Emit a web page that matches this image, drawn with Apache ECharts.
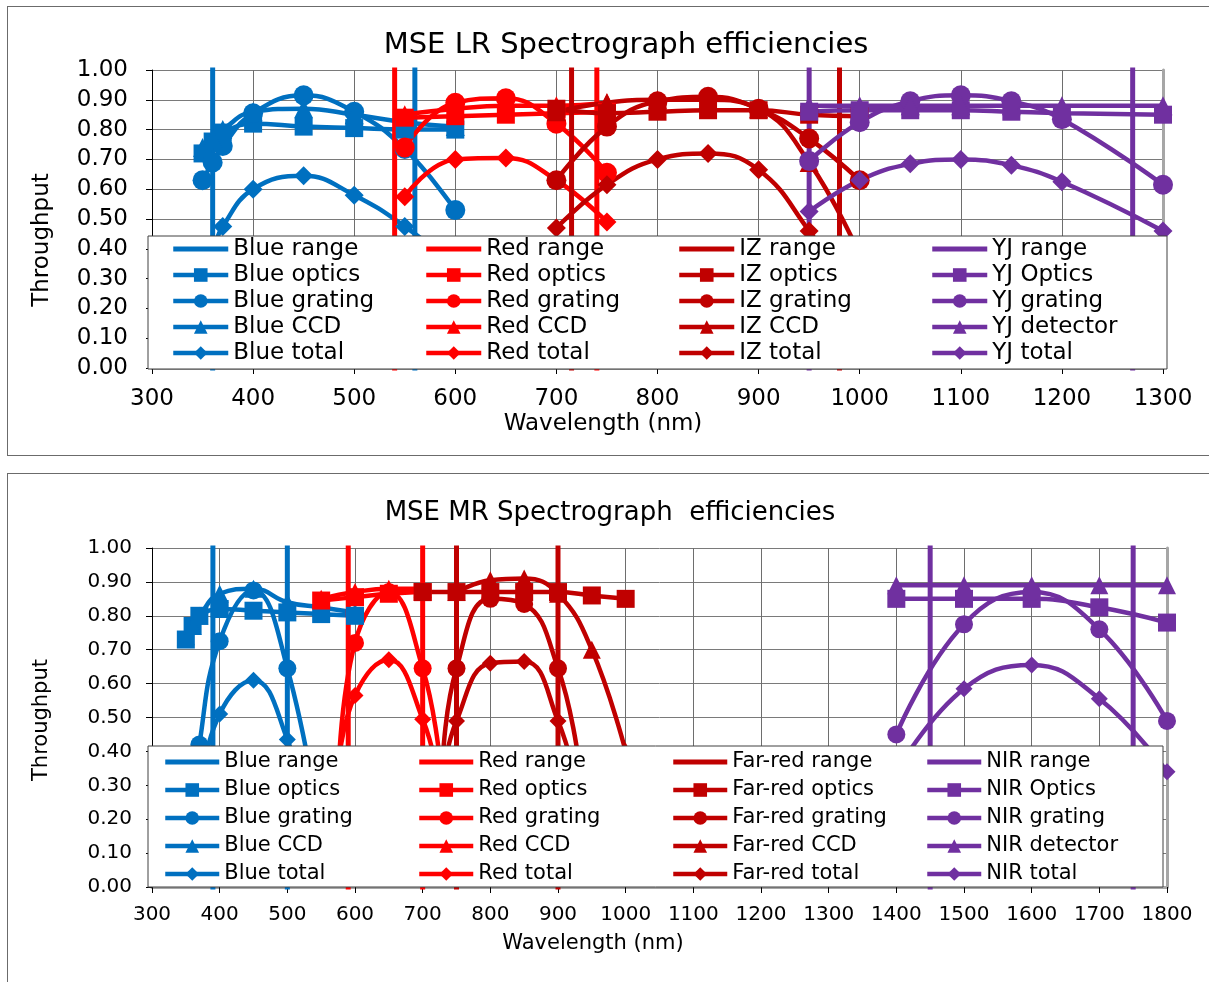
<!DOCTYPE html>
<html>
<head>
<meta charset="utf-8">
<script src="https://cdn.jsdelivr.net/npm/echarts@6/dist/echarts.min.js"></script>
<style>
  html, body { margin: 0; padding: 0; background: #fff; width: 1209px; height: 982px; overflow: hidden; position: relative; }
  .frame { position: absolute; border: 1px solid #6b6b6b; box-sizing: border-box; }
  #lr { position: absolute; left: 0; top: 0; width: 1209px; height: 466px; }
  #mr { position: absolute; left: 0; top: 466px; width: 1209px; height: 516px; }
</style>
</head>
<body>
<div class="frame" style="left:7px;top:6px;width:1215px;height:450px"></div>
<div class="frame" style="left:7px;top:473px;width:1215px;height:520px"></div>
<div id="lr"></div>
<div id="mr"></div>
<script>
// ---------- Low-resolution (LR) spectrograph ----------
const lrRangeBlue = [360, 560];
const lrRangeRed = [540, 740];
const lrRangeIZ = [715, 980];
const lrRangeYJ = [950, 1270];

const lrBlueWl = [350, 360, 370, 400, 450, 500, 550, 600];
const lrBlueOptics = [0.72, 0.76, 0.79, 0.82, 0.81, 0.805, 0.80, 0.80];
const lrBlueGrating = [0.63, 0.69, 0.745, 0.855, 0.915, 0.86, 0.735, 0.53];
const lrBlueCCD = [0.74, 0.77, 0.80, 0.86, 0.87, 0.85, 0.825, 0.81];
const lrBlueTotal = [0.34, 0.40, 0.475, 0.60, 0.645, 0.58, 0.475, 0.34];

const lrRedWl = [550, 600, 650, 700, 750];
const lrRedOptics = [0.84, 0.845, 0.85, 0.855, 0.86];
const lrRedGrating = [0.74, 0.89, 0.905, 0.82, 0.655];
const lrRedCCD = [0.85, 0.87, 0.88, 0.88, 0.89];
const lrRedTotal = [0.575, 0.70, 0.705, 0.63, 0.49];

const lrIzWl = [700, 750, 800, 850, 900, 950, 1000];
const lrIzOptics = [0.87, 0.855, 0.86, 0.865, 0.865, 0.85, 0.845];
const lrIzGrating = [0.63, 0.81, 0.895, 0.91, 0.87, 0.77, 0.63];
const lrIzCCD = [0.86, 0.89, 0.90, 0.90, 0.87, 0.69, 0.38];
const lrIzTotal = [0.47, 0.615, 0.70, 0.72, 0.665, 0.46, 0.21];

const lrYjWl = [950, 1000, 1050, 1100, 1150, 1200, 1300];
const lrYjOptics = [0.86, 0.865, 0.865, 0.865, 0.86, 0.855, 0.85];
const lrYjGrating = [0.695, 0.825, 0.895, 0.915, 0.895, 0.835, 0.615];
const lrYjDetector = [0.88, 0.88, 0.88, 0.88, 0.88, 0.88, 0.88];
const lrYjTotal = [0.525, 0.63, 0.685, 0.70, 0.68, 0.625, 0.46];

// ---------- Medium-resolution (MR) spectrograph ----------
const mrRangeBlue = [390, 500];
const mrRangeRed = [590, 700];
const mrRangeFar = [750, 900];
const mrRangeNIR = [1450, 1750];

const mrBlueWl = [350, 360, 370, 400, 450, 500, 550, 600];
const mrBlueOptics = [0.73, 0.77, 0.80, 0.82, 0.815, 0.81, 0.805, 0.80];
const mrBlueGrating = [null, 0.22, 0.42, 0.725, 0.875, 0.645, 0.15, null];
const mrBlueCCD = [0.74, 0.77, 0.80, 0.865, 0.88, 0.84, 0.825, 0.81];
const mrBlueTotal = [null, 0.15, 0.27, 0.51, 0.61, 0.435, 0.10, null];

const mrRedWl = [550, 575, 600, 650, 700, 725];
const mrRedOptics = [0.845, null, 0.855, 0.865, 0.87, null];
const mrRedGrating = [null, 0.30, 0.72, 0.87, 0.645, 0.38];
const mrRedCCD = [0.85, null, 0.87, 0.88, 0.88, null];
const mrRedTotal = [null, 0.35, 0.565, 0.67, 0.495, 0.30];

const mrFarWl = [700, 730, 750, 800, 850, 900, 930, 950, 1000];
const mrFarOptics = [0.87, null, 0.87, 0.87, 0.87, 0.87, null, 0.86, 0.85];
const mrFarGrating = [null, 0.38, 0.645, 0.85, 0.835, 0.645, 0.38, null, null];
const mrFarCCD = [null, null, 0.87, 0.905, 0.91, 0.865, null, 0.70, 0.40];
const mrFarTotal = [null, 0.33, 0.49, 0.66, 0.665, 0.49, 0.28, null, null];

const mrNirWl = [1400, 1500, 1600, 1700, 1800];
const mrNirOptics = [0.85, 0.85, 0.85, 0.825, 0.78];
const mrNirGrating = [0.45, 0.775, 0.87, 0.76, 0.49];
const mrNirDetector = [0.89, 0.89, 0.89, 0.89, 0.89];
const mrNirTotal = [0.34, 0.585, 0.655, 0.555, 0.34];

// ---------- styling ----------
const BLUE = '#0070C0', RED = '#FF0000', DARK = '#C00000', PURPLE = '#7030A0';
const FONT = '"DejaVu Sans", sans-serif';
const Y_MIN = 0, Y_MAX = 1;
// plain bar used as the legend key of the range lines (no marker)
const RANGE_ICON = 'path://M0,0H55V5H0Z';

function pairs(xs, ys) {
  const out = [];
  xs.forEach((x, i) => { if (ys[i] != null) out.push([x, ys[i]]); });
  return out;
}

// A wavelength range is drawn as two vertical lines spanning the whole value axis;
// the joining segment runs above the plot and is clipped away.
function rangeSeries(name, color, xs) {
  const lo = Y_MIN - 0.05, hi = Y_MAX + 0.5;
  return {
    name, type: 'line', symbol: 'none', showSymbol: false, clip: true, smooth: false,
    data: [[xs[0], lo], [xs[0], hi], [xs[1], hi], [xs[1], lo]],
    lineStyle: { color, width: 5 }, itemStyle: { color },
    emphasis: { disabled: true }
  };
}

function curve(name, color, symbol, size, xs, ys) {
  return {
    name, type: 'line', data: pairs(xs, ys), symbol, symbolSize: size,
    showSymbol: true, smooth: 0.45, clip: true,
    lineStyle: { color, width: 4.5 }, itemStyle: { color, borderWidth: 0 },
    emphasis: { disabled: true }
  };
}

function band(prefix, color, sizes, range, wl, optics, grating, det, total, names) {
  return [
    rangeSeries(prefix + ' range', color, range),
    curve(prefix + names[0], color, 'rect', sizes[0], wl, optics),
    curve(prefix + ' grating', color, 'circle', sizes[1], wl, grating),
    curve(prefix + names[1], color, 'triangle', sizes[2], wl, det),
    curve(prefix + ' total', color, 'diamond', sizes[3], wl, total)
  ];
}

function legendCols(groups, lefts, top, cfg) {
  return groups.map((g, i) => ({
    orient: 'vertical', left: lefts[i], top, padding: 0, itemGap: 0,
    itemWidth: cfg.iw, itemHeight: 17, selectedMode: false, z: 60,
    lineStyle: { width: 'inherit' },
    data: g.map(name => / range$/.test(name) ? { name, icon: RANGE_ICON } : name),
    textStyle: { fontFamily: FONT, fontSize: cfg.fs, lineHeight: cfg.lh, color: '#000' }
  }));
}

function axes(cfg) {
  const lbl = { fontFamily: FONT, fontSize: cfg.fs, color: '#000' };
  return {
    xAxis: [{
      type: 'value', min: cfg.xmin, max: cfg.xmax, interval: 100,
      axisLine: { show: true, lineStyle: { color: '#000', width: 1 } },
      axisTick: { show: true, length: 6, lineStyle: { color: '#000' } },
      axisLabel: { ...lbl, margin: cfg.xm, formatter: v => String(v) },
      splitLine: { show: true, lineStyle: { color: '#6e6e6e', width: 1 } }
    }, {
      type: 'value', position: 'top', min: cfg.xmin, max: cfg.xmax,
      axisLine: { show: true, lineStyle: { color: '#a6a6a6', width: 3 } },
      axisTick: { show: false }, axisLabel: { show: false }, splitLine: { show: false }
    }],
    yAxis: [{
      type: 'value', min: Y_MIN, max: Y_MAX, interval: 0.1,
      axisLine: { show: true, lineStyle: { color: '#000', width: 1 } },
      axisTick: { show: true, length: 6, lineStyle: { color: '#000' } },
      axisLabel: { ...lbl, margin: cfg.ym, formatter: v => v.toFixed(2) },
      splitLine: { show: true, lineStyle: { color: '#7a7a7a', width: 1 } }
    }, {
      type: 'value', position: 'right', min: Y_MIN, max: Y_MAX,
      axisLine: { show: true, lineStyle: { color: '#a6a6a6', width: 3 } },
      axisTick: { show: false }, axisLabel: { show: false }, splitLine: { show: false }
    }]
  };
}

function textEl(text, x, y, size, rot) {
  return {
    type: 'text', x, y, rotation: rot || 0, z: 60, silent: true,
    style: { text, fontFamily: FONT, fontSize: size, fill: '#000', align: 'center', verticalAlign: 'middle' }
  };
}

// ---------- LR chart ----------
const lrSeries = [].concat(
  band('Blue', BLUE, [18, 20, 19, 19], lrRangeBlue, lrBlueWl, lrBlueOptics, lrBlueGrating, lrBlueCCD, lrBlueTotal, [' optics', ' CCD']),
  band('Red', RED, [18, 20, 19, 19], lrRangeRed, lrRedWl, lrRedOptics, lrRedGrating, lrRedCCD, lrRedTotal, [' optics', ' CCD']),
  band('IZ', DARK, [18, 20, 19, 19], lrRangeIZ, lrIzWl, lrIzOptics, lrIzGrating, lrIzCCD, lrIzTotal, [' optics', ' CCD']),
  band('YJ', PURPLE, [18, 20, 19, 19], lrRangeYJ, lrYjWl, lrYjOptics, lrYjGrating, lrYjDetector, lrYjTotal, [' Optics', ' detector'])
);
const lrChart = echarts.init(document.getElementById('lr'), null, { renderer: 'canvas' });
lrChart.setOption({
  animation: false,
  grid: { left: 152, top: 70, width: 1011, height: 298, show: false },
  ...axes({ xmin: 300, xmax: 1300, fs: 23, xm: 20, ym: 24 }),
  legend: legendCols(
    [0, 1, 2, 3].map(i => lrSeries.slice(i * 5, i * 5 + 5).map(s => s.name)),
    [171, 424, 677, 930], 236, { iw: 55, fs: 23, lh: 26 }),
  graphic: [
    { type: 'rect', z: 50, silent: true, shape: { x: 148, y: 236, width: 1019, height: 133 },
      style: { fill: '#fff', stroke: '#404040', lineWidth: 1 } },
    textEl('MSE LR Spectrograph efficiencies', 626, 45, 29),
    textEl('Wavelength (nm)', 603, 424, 23),
    textEl('Throughput', 42, 240, 23, Math.PI / 2)
  ],
  series: lrSeries
});

// ---------- MR chart ----------
const mrSeries = [].concat(
  band('Blue', BLUE, [18, 18, 18, 17], mrRangeBlue, mrBlueWl, mrBlueOptics, mrBlueGrating, mrBlueCCD, mrBlueTotal, [' optics', ' CCD']),
  band('Red', RED, [18, 18, 18, 17], mrRangeRed, mrRedWl, mrRedOptics, mrRedGrating, mrRedCCD, mrRedTotal, [' optics', ' CCD']),
  band('Far-red', DARK, [18, 18, 18, 17], mrRangeFar, mrFarWl, mrFarOptics, mrFarGrating, mrFarCCD, mrFarTotal, [' optics', ' CCD']),
  band('NIR', PURPLE, [18, 18, 18, 17], mrRangeNIR, mrNirWl, mrNirOptics, mrNirGrating, mrNirDetector, mrNirTotal, [' Optics', ' detector'])
);
const mrChart = echarts.init(document.getElementById('mr'), null, { renderer: 'canvas' });
mrChart.setOption({
  animation: false,
  grid: { left: 152, top: 82, width: 1015, height: 339, show: false },
  ...axes({ xmin: 300, xmax: 1800, fs: 20, xm: 18, ym: 20 }),
  legend: legendCols(
    [0, 1, 2, 3].map(i => mrSeries.slice(i * 5, i * 5 + 5).map(s => s.name)),
    [163, 417, 671, 925], 282, { iw: 54, fs: 21, lh: 28 }),
  graphic: [
    { type: 'rect', z: 50, silent: true, shape: { x: 148, y: 280, width: 1015, height: 141 },
      style: { fill: '#fff', stroke: '#404040', lineWidth: 1 } },
    textEl('MSE MR Spectrograph  efficiencies', 610, 47, 26),
    textEl('Wavelength (nm)', 593, 478, 21),
    textEl('Throughput', 42, 254, 21, Math.PI / 2)
  ],
  series: mrSeries
});
</script>
</body>
</html>
